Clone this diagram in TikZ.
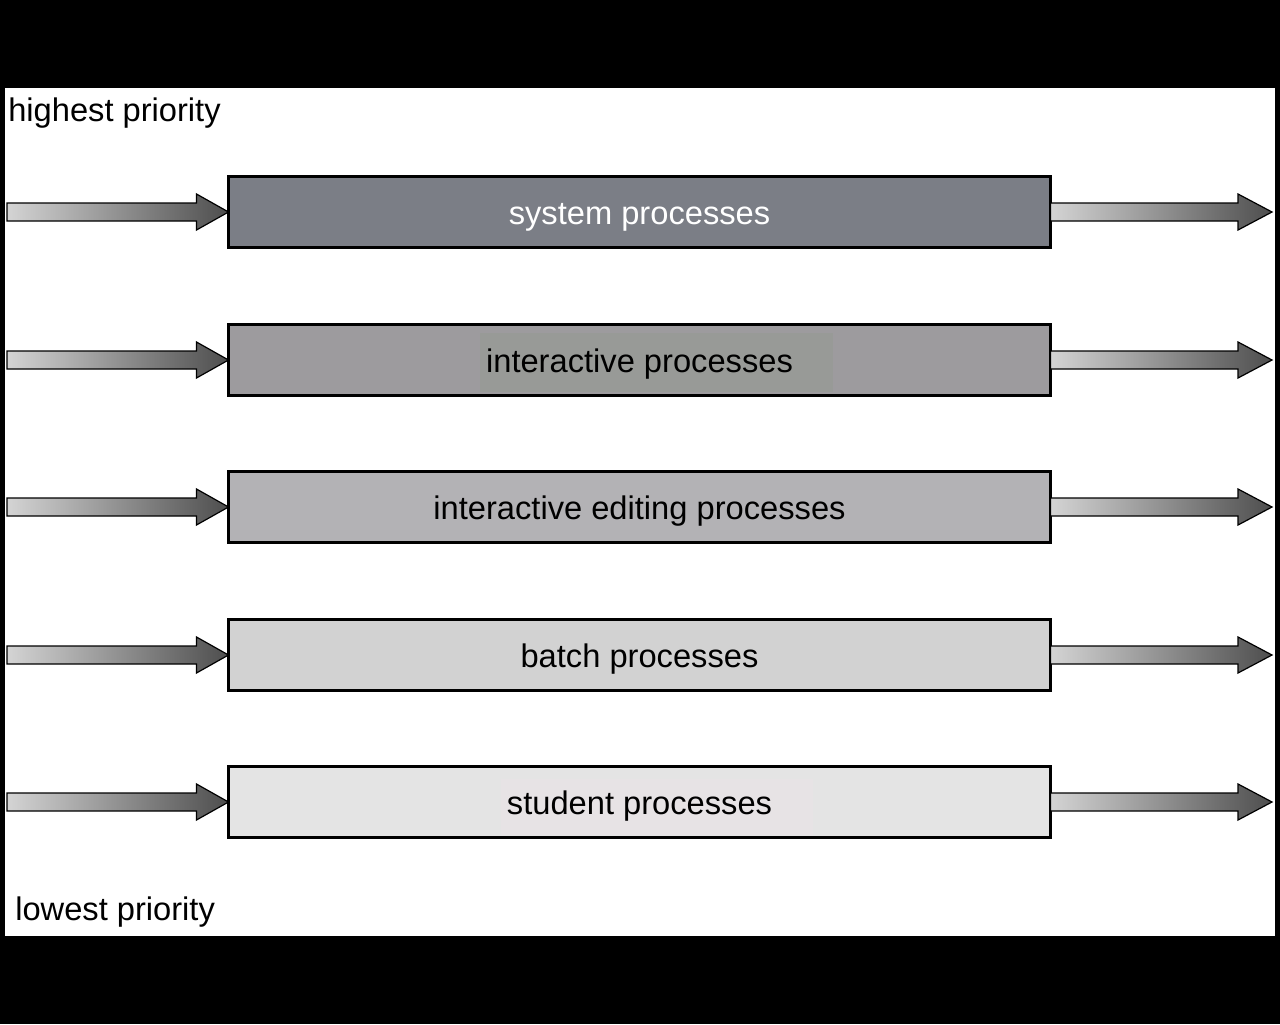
\documentclass[tikz,border=0pt]{standalone}
\usepackage{fontspec}
\setmainfont{Liberation Sans}
\usetikzlibrary{calc}
\definecolor{sysc}{HTML}{7B7E86}
\definecolor{intc}{HTML}{9D9B9E}
\definecolor{intbg}{HTML}{989A97}
\definecolor{edc}{HTML}{B3B2B5}
\definecolor{batc}{HTML}{D2D2D2}
\definecolor{stuc}{HTML}{E4E4E4}
\definecolor{stubg}{HTML}{E7E3E5}
\definecolor{arlight}{HTML}{D4D4D4}
\definecolor{armid}{HTML}{8E928C}
\definecolor{ardark}{HTML}{4E4E4E}
\begin{document}
\begin{tikzpicture}[x=0.75pt,y=-0.75pt,
  procbox/.style={draw=black,line width=2.4pt,minimum width=616.5pt,minimum height=53.25pt,inner sep=0pt,outer sep=0pt},
  proctext/.style={font=\fontsize{24.5pt}{28pt}\selectfont,anchor=base,inner sep=0pt},
  prio/.style={font=\fontsize{24.5pt}{28pt}\selectfont,anchor=base west,inner sep=0pt},
  fatarrow/.style={draw=black,line width=0.9pt,left color=arlight,middle color=armid,right color=ardark}]
\useasboundingbox (0,0) rectangle (1280,1024);
\fill[black] (0,0) rectangle (1280,1024);
\fill[white] (5,88) rectangle (1275,936);

\node[prio] (hi) at (8,121) {highest priority};
\node[prio] (lo) at (15,920) {lowest priority};

% boxes
\node[procbox,fill=sysc] (b1) at (639.5,212) {};
\node[procbox,fill=intc] (b2) at (639.5,360) {};
\node[procbox,fill=edc]  (b3) at (639.5,507) {};
\node[procbox,fill=batc] (b4) at (639.5,655) {};
\node[procbox,fill=stuc] (b5) at (639.5,802) {};

\fill[intbg] (480,333) rectangle (833,392);
\fill[stubg] (501,779) rectangle (813,835);

\node[proctext,text=white] (t1) at ($(b1.center)+(0,12)$) {system processes};
\node[proctext] (t2) at ($(b2.center)+(0,12)$) {interactive processes};
\node[proctext] (t3) at ($(b3.center)+(0,12)$) {interactive editing processes};
\node[proctext] (t4) at ($(b4.center)+(0,12)$) {batch processes};
\node[proctext] (t5) at ($(b5.center)+(0,12)$) {student processes};

% arrows
\foreach \b/\y in {b1/212,b2/360,b3/507,b4/655,b5/802}{
  \coordinate (in\b) at (7,\y);
  \coordinate (out\b) at (1272,\y);
  \path[fatarrow] ($(in\b)+(0,-9)$) -- ($(\b.west)+(-32,-9)$) -- ($(\b.west)+(-32,-18)$)
     -- (\b.west) -- ($(\b.west)+(-32,18)$) -- ($(\b.west)+(-32,9)$) -- ($(in\b)+(0,9)$) -- cycle;
  \path[fatarrow] ($(\b.east)+(0,-9)$) -- ($(out\b)+(-34,-9)$) -- ($(out\b)+(-34,-18)$)
     -- (out\b) -- ($(out\b)+(-34,18)$) -- ($(out\b)+(-34,9)$) -- ($(\b.east)+(0,9)$) -- cycle;
}
\end{tikzpicture}
\end{document}
